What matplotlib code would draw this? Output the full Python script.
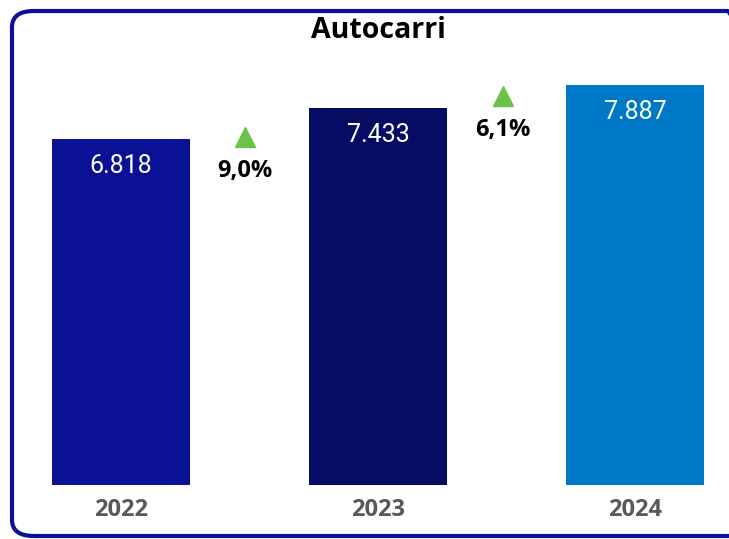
import matplotlib
matplotlib.use("Agg")
import matplotlib.pyplot as plt
from matplotlib.patches import FancyBboxPatch

years = ["2022", "2023", "2024"]
values = [6818, 7433, 7887]
value_labels = ["6.818", "7.433", "7.887"]
bar_colors = ["#0a1195", "#060c62", "#0078c8"]
changes = ["9,0%", "6,1%"]

W, H = 729, 539
fig = plt.figure(figsize=(W / 100, H / 100), dpi=100)

# rounded border
border = FancyBboxPatch((12 / W, 3 / H), (W + 20 - 12) / W, (H - 11 - 3) / H,
                        boxstyle="round,pad=0,rounding_size=0.03",
                        transform=fig.transFigure, fill=False,
                        edgecolor="#0a1195", linewidth=3.0, clip_on=False)
fig.patches.append(border)

scale = 19.71  # units per pixel
base_px = 54
ax = fig.add_axes([0, base_px / H, 1, (H - base_px) / H])
ax.set_xlim(-121 / 257, (W - 121) / 257)
ax.set_ylim(0, (H - base_px) * scale)
ax.axis("off")

x = list(range(len(years)))
ax.bar(x, values, width=0.537, color=bar_colors)

for xi, v, lab in zip(x, values, value_labels):
    ax.text(xi, v - 27 * scale, lab, ha="center", va="center",
            color="white", fontsize=18, family="Roboto")
    ax.text(xi, -25 * scale, years[xi], ha="center", va="center",
            color="#595959", fontsize=17, fontweight="bold",
            family="Open Sans", clip_on=False)

tri_pos = [(0.4825, 348, 314), (1.486, 389, 355)]
for (xp, tri_px, txt_px), ch in zip(tri_pos, changes):
    ax.plot([xp], [tri_px * scale], marker="^", markersize=15,
            color="#6cc24a", linestyle="none")
    ax.text(xp, txt_px * scale, ch, ha="center", va="center",
            color="black", fontsize=17, fontweight="bold", family="Open Sans")

fig.text(378 / W, 1 - 31 / H, "Autocarri", ha="center", va="center",
         fontsize=20.5, fontweight="bold", family="Open Sans", color="black")

fig.savefig("out.png", dpi=100)
